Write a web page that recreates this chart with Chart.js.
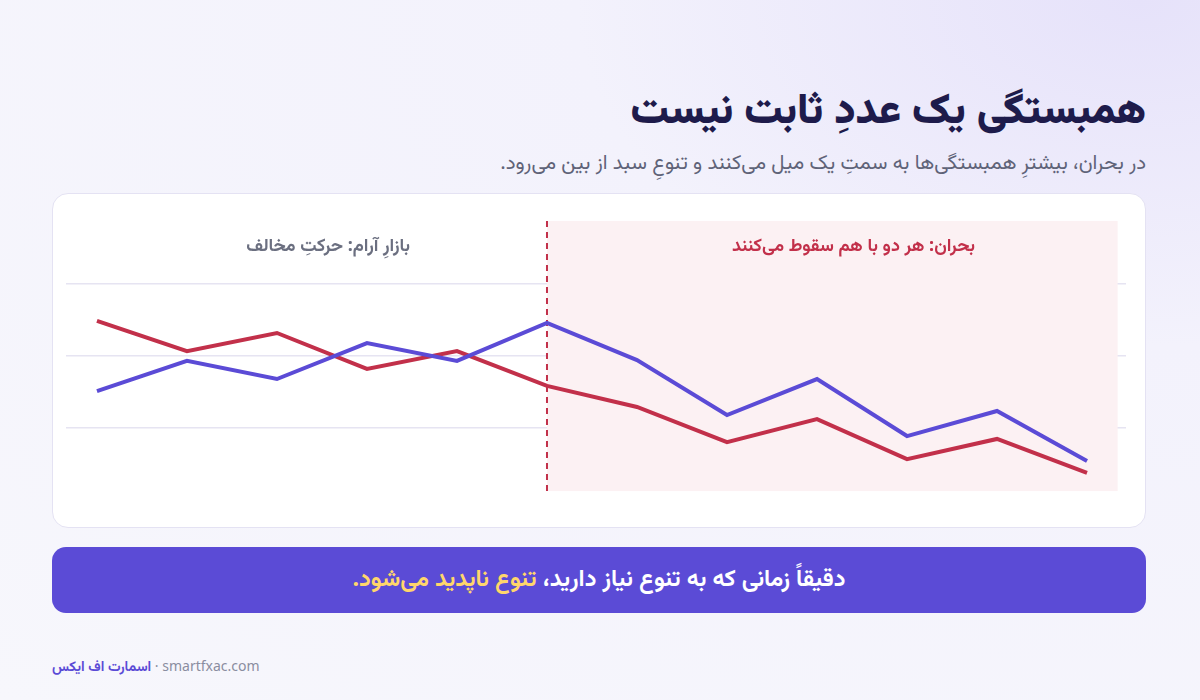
<!DOCTYPE html>
<html lang="fa">
<head>
<meta charset="utf-8">
<script src="https://cdn.jsdelivr.net/npm/chart.js@4"></script>
<style>
  html, body { margin: 0; padding: 0; }
  body {
    width: 1200px; height: 700px; position: relative; overflow: hidden;
    font-family: "Noto Sans", "Vazirmatn", sans-serif;
    background: radial-gradient(ellipse at 95% 0%, #e6e2fa 0%, #f3f2fc 35%, #f7f7fc 100%);
  }
  .abs { position: absolute; }
  #title { right: 54px; top: 78px; font-size: 42px; font-weight: 900; color: #1e1b4b; direction: rtl; }
  #sub { right: 54px; top: 147px; font-size: 20.5px; color: #5f6378; direction: rtl; }
  #card { left: 52px; top: 193px; width: 1094px; height: 335px; background: #fff; border-radius: 16px; border: 1px solid #e4e2f3; box-sizing: border-box; }
  #chartBox { left: 52px; top: 193px; width: 1094px; height: 335px; }
  .lab { font-size: 18px; font-weight: 700; direction: rtl; }
  #calm { right: 790px; top: 232px; color: #6b6f80; }
  #crisis { right: 225px; top: 232px; color: #c2304a; }
  #banner { left: 52px; top: 547px; width: 1094px; height: 66px; background: #5b4bd6; border-radius: 14px;
    color: #fff; font-size: 23.5px; font-weight: 700; display: flex; align-items: center; justify-content: center; direction: rtl; }
  #banner span { color: #ffd66b; }
  #foot { left: 52px; top: 656px; font-size: 14px; color: #8a8da0; direction: ltr; }
  #foot b { color: #5b4bd6; }
</style>
</head>
<body>
<div class="abs" id="title">همبستگی یک عددِ ثابت نیست</div>
<div class="abs" id="sub">در بحران، بیشترِ همبستگی‌ها به سمتِ یک میل می‌کنند و تنوعِ سبد از بین می‌رود.</div>
<div class="abs" id="card"></div>
<div class="abs" id="chartBox"><canvas id="myChart"></canvas></div>
<div class="abs lab" id="calm">بازارِ آرام: حرکتِ مخالف</div>
<div class="abs lab" id="crisis">بحران: هر دو با هم سقوط می‌کنند</div>
<div class="abs" id="banner">دقیقاً زمانی که به تنوع نیاز دارید،&nbsp;<span>تنوع ناپدید می‌شود.</span></div>
<div class="abs" id="foot"><b>اسمارت اف ایکس</b> · smartfxac.com</div>
<script>
// values (0-100 scale)
const steps = [0, 1, 2, 3, 4, 5, 6, 7, 8, 9, 10, 11]
const blueSeries = [37.8, 48.3, 42, 54.5, 48.3, 61.5, 48.6, 29.5, 42, 22.2, 30.9, 13.5]
const redSeries = [62.2, 51.7, 58, 45.5, 51.7, 39.6, 32.3, 20.1, 28.1, 14.2, 21.2, 9.4]
const crisisStart = 5
const gridValues = [25, 50, 75]

// shaded crisis zone + dashed divider
const crisisZone = {
  id: 'crisisZone',
  beforeDatasetsDraw(chart) {
    const {ctx, scales: {x, y}} = chart
    const x0 = x.getPixelForValue(crisisStart)
    const top = y.getPixelForValue(96.9), bottom = y.getPixelForValue(3.1)
    ctx.save()
    ctx.fillStyle = '#fcf1f3'
    ctx.fillRect(x0, top, x.getPixelForValue(11.34) - x0, bottom - top)
    ctx.strokeStyle = '#c2304a'
    ctx.lineWidth = 2
    ctx.setLineDash([6, 5])
    ctx.beginPath()
    ctx.moveTo(x0, top)
    ctx.lineTo(x0, bottom)
    ctx.stroke()
    ctx.restore()
  }
}

new Chart(document.getElementById('myChart').getContext('2d'), {
  type: 'line',
  data: {
    datasets: [
      {data: steps.map((s, i) => ({x: s, y: blueSeries[i]})), borderColor: '#5b4bd6', borderWidth: 4, pointRadius: 0, tension: 0},
      {data: steps.map((s, i) => ({x: s, y: redSeries[i]})), borderColor: '#c2304a', borderWidth: 4, pointRadius: 0, tension: 0}
    ]
  },
  options: {
    responsive: true, maintainAspectRatio: false, animation: false,
    layout: {padding: {left: 14, right: 20, top: 19, bottom: 28}},
    plugins: {legend: {display: false}, tooltip: {enabled: false}},
    scales: {
      x: {type: 'linear', min: -0.344, max: 11.433, display: false},
      y: {
        min: 0, max: 100,
        border: {display: false},
        ticks: {display: false, stepSize: 25},
        grid: {color: ctx => gridValues.includes(ctx.tick.value) ? '#e6e4f2' : 'transparent', lineWidth: 1.5, drawTicks: false}
      }
    }
  },
  plugins: [crisisZone]
})
</script>
</body>
</html>
